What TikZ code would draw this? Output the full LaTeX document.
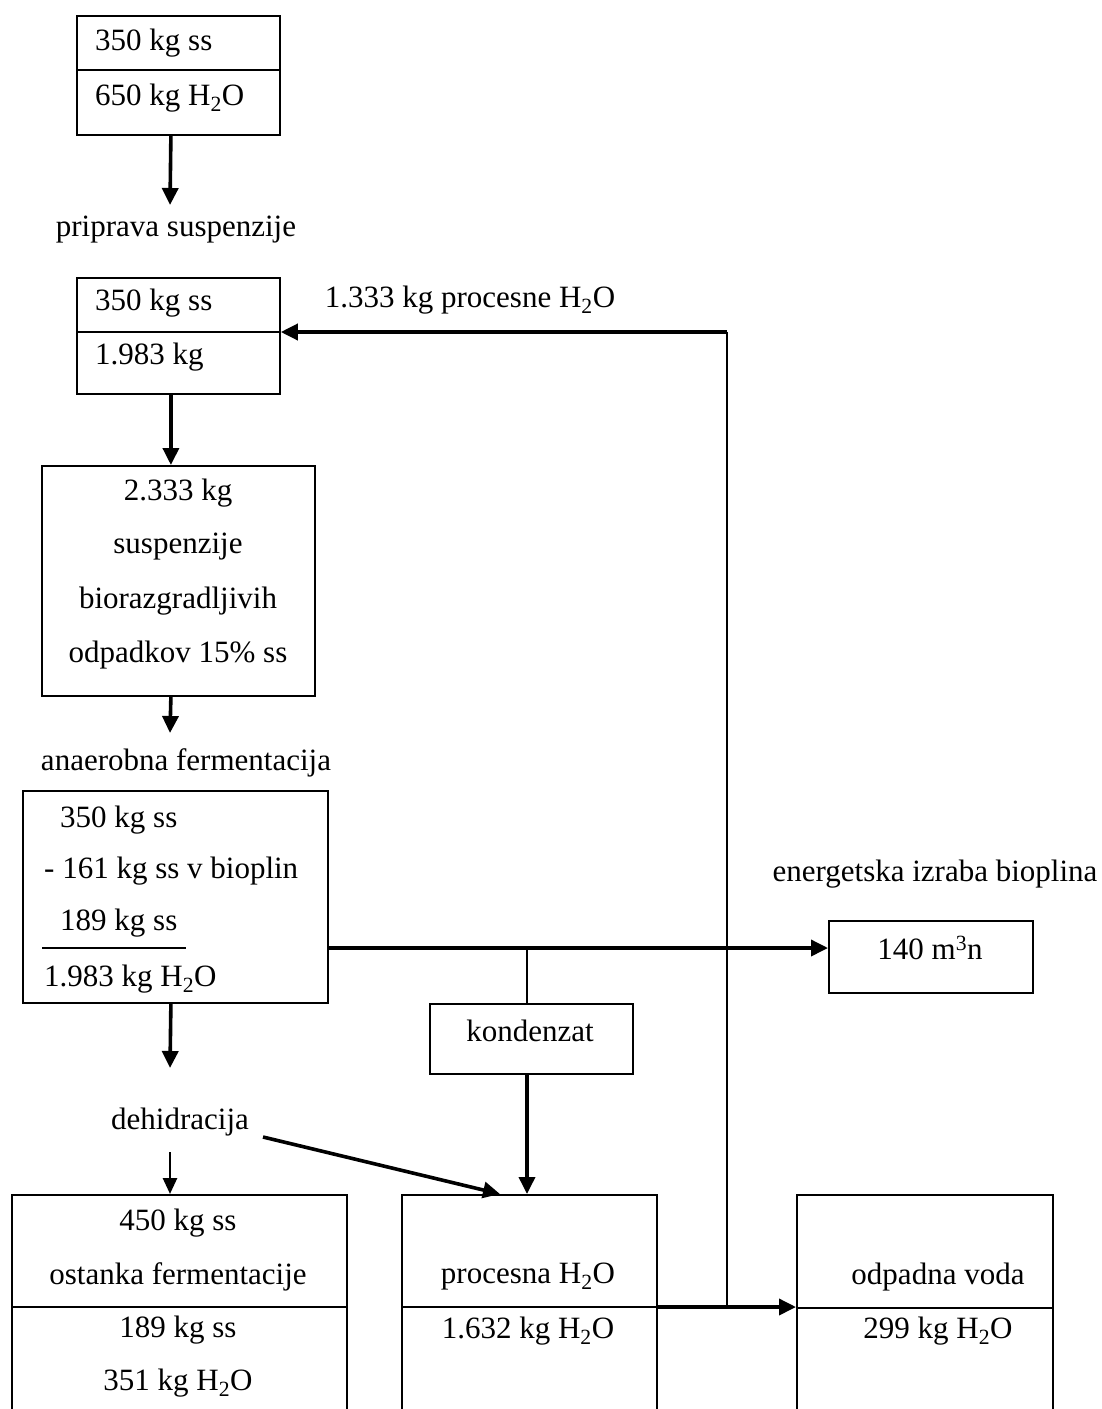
\documentclass[tikz,border=0pt]{standalone}
\usepackage{fontspec}
\setmainfont{Liberation Serif}
\usetikzlibrary{arrows.meta}
\begin{document}
\begin{tikzpicture}[x=1pt,y=-1pt,
  every node/.style={font=\fontsize{31}{37}\selectfont, inner sep=0pt},
  box/.style={draw, line width=1.8pt, anchor=north west},
  rule/.style={line width=1.8pt},
  pipe/.style={line width=1.8pt},
  flow/.style={line width=3.6pt, -{Triangle[length=17pt,width=16pt]}},
  lightflow/.style={line width=2.6pt, -{Triangle[length=16pt,width=14pt]}}]
\clip (0,0) rectangle (1102,1409);
\fill[white] (0,0) rectangle (1102,1409);

% input material
\node[box, minimum width=203pt, minimum height=119pt] (feed) at (76,15) {};
\draw[rule] (76,70) -- (279,70);
\node[anchor=west] (feedss) at (95,43) {350 kg ss};
\node[anchor=west] (feedw) at (95,98) {650 kg H\textsubscript{2}O};

\node (prep) at (176,230) {priprava suspenzije};

% mixing with recycled water
\node[box, minimum width=203pt, minimum height=116pt] (mix) at (76,277) {};
\draw[rule] (76,332) -- (279,332);
\node[anchor=west] (mixss) at (95,303) {350 kg ss};
\node[anchor=west] (mixw) at (95,357) {1.983 kg};
\node (recyc) at (470,300) {1.333 kg procesne H\textsubscript{2}O};

% suspension
\node[box, minimum width=273pt, minimum height=230pt] (susp) at (41,465) {};
\node (s1) at (178,493) {2.333 kg};
\node (s2) at (178,547) {suspenzije};
\node (s3) at (178,601) {biorazgradljivih};
\node (s4) at (178,655) {odpadkov 15\% ss};

\node (ferm) at (186,763) {anaerobna fermentacija};

% digester balance
\node[box, minimum width=305pt, minimum height=212pt] (digest) at (22,790) {};
\node[anchor=west] (d1) at (60,820) {350 kg ss};
\node[anchor=west] (d2) at (44,871) {- 161 kg ss v bioplin};
\node[anchor=west] (d3) at (60,923) {189 kg ss};
\draw[rule] (42,948) -- (186,948);
\node[anchor=west] (d4) at (44,979) {1.983 kg H\textsubscript{2}O};

% biogas
\node (gaslbl) at (935,874) {energetska izraba bioplina};
\node[box, minimum width=204pt, minimum height=72pt] (biogas) at (828,920) {};
\node (gasv) at (930,948) {140 m\textsuperscript{3}n};

% condensate
\node[box, minimum width=203pt, minimum height=70pt] (cond) at (429,1003) {};
\node (condt) at (530,1031) {kondenzat};

\node (dehid) at (180,1122) {dehidracija};

% products
\node[box, minimum width=335pt, minimum height=240pt] (residue) at (11,1194) {};
\draw[rule] (11,1307) -- (346,1307);
\node (r1) at (178,1223) {450 kg ss};
\node (r2) at (178,1277) {ostanka fermentacije};
\node (r3) at (178,1330) {189 kg ss};
\node (r4) at (178,1383) {351 kg H\textsubscript{2}O};

\node[box, minimum width=255pt, minimum height=240pt] (proc) at (401,1194) {};
\draw[rule] (401,1307) -- (656,1307);
\node (p1) at (528,1277) {procesna H\textsubscript{2}O};
\node (p2) at (528,1331) {1.632 kg H\textsubscript{2}O};

\node[box, minimum width=256pt, minimum height=240pt] (waste) at (796,1194) {};
\draw[rule] (796,1308) -- (1052,1308);
\node (w1) at (938,1277) {odpadna voda};
\node (w2) at (938,1331) {299 kg H\textsubscript{2}O};

% junction points
\coordinate (a1) at (170,205);
\coordinate (a3) at (170,733);
\coordinate (a4) at (170,1068);
\coordinate (dh) at (170,1152);
\coordinate (ds) at (263,1137);
\coordinate (dt) at (500,1194);
\coordinate (g) at (527,948);
\coordinate (j1) at (727,332);
\coordinate (j2) at (727,1307);

% main flow
\draw[flow] ([xshift=-7.5pt]feed.south) -- (a1);
\draw[flow] ([xshift=-7.5pt]mix.south) -- ([xshift=-7.5pt]susp.north);
\draw[flow] ([xshift=-7.5pt]susp.south) -- (a3);
\draw[flow] ([xshift=-4.5pt]digest.south) -- (a4);
\draw[lightflow] (dh) -- (dh |- residue.north);
\draw[flow] (ds) -- (dt);

% biogas and condensate
\draw[flow] (digest.east |- g) -- (biogas.west |- g);
\draw[pipe] (g) -- (g |- cond.north);
\draw[flow] (g |- cond.south) -- (g |- proc.north);

% water recycle and waste water
\draw[flow] (proc.east |- j2) -- (waste.west |- j2);
\draw[pipe] (j2) -- (j1);
\draw[flow] (j1) -- (mix.east |- j1);
\end{tikzpicture}
\end{document}
